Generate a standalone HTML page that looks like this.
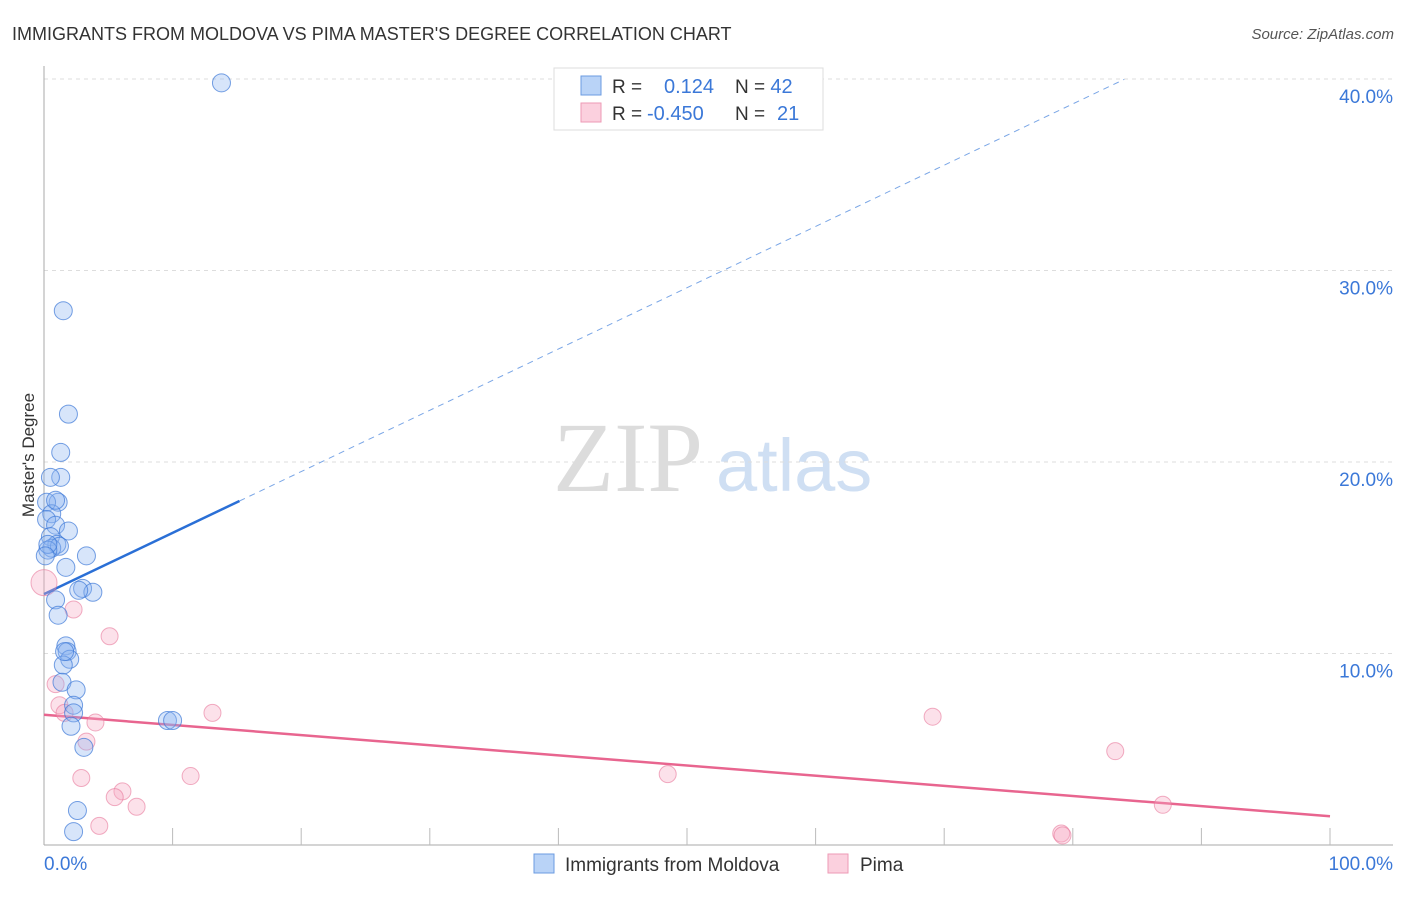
<!DOCTYPE html>
<html><head><meta charset="utf-8"><style>
body{margin:0;background:#fff;font-family:"Liberation Sans",sans-serif;}
</style></head><body>
<svg width="1406" height="892" xmlns="http://www.w3.org/2000/svg" font-family="Liberation Sans, sans-serif">
<text x="12" y="40" font-size="18" fill="#333">IMMIGRANTS FROM MOLDOVA VS PIMA MASTER'S DEGREE CORRELATION CHART</text>
<text x="1394" y="39" font-size="15" fill="#555" text-anchor="end" font-style="italic">Source: ZipAtlas.com</text>
<text x="553" y="491" font-size="100" fill="#dcdcdc" font-family="Liberation Serif, serif">ZIP</text>
<text x="716" y="491" font-size="74" fill="#cfdff3">atlas</text>
<g id="grid"></g>
<g id="axes"></g>
<text transform="translate(34,455) rotate(-90)" font-size="17" fill="#333" text-anchor="middle">Master's Degree</text>
<g id="lines"></g>
<g id="points"></g>
<rect x="554" y="68" width="269" height="62" fill="#fff" stroke="#ddd"/>
<rect x="581" y="76" width="20" height="19" fill="#b9d3f7" stroke="#6b9be0"/>
<rect x="581" y="103" width="20" height="19" fill="#fbd0de" stroke="#ee9ab5"/>
<text x="612" y="93" font-size="19" fill="#333">R = <tspan x="664" fill="#3b78d8" font-size="20">0.124</tspan><tspan x="735" fill="#333">N = </tspan><tspan fill="#3b78d8" font-size="20">42</tspan></text>
<text x="612" y="120" font-size="19" fill="#333">R = <tspan x="647" fill="#3b78d8" font-size="20">-0.450</tspan><tspan x="735" fill="#333">N = </tspan><tspan x="777" fill="#3b78d8" font-size="20">21</tspan></text>
<rect x="534" y="854" width="20" height="19" fill="#b9d3f7" stroke="#6b9be0"/>
<text x="565" y="871" font-size="19" fill="#333">Immigrants from Moldova</text>
<rect x="828" y="854" width="20" height="19" fill="#fbd0de" stroke="#ee9ab5"/>
<text x="860" y="871" font-size="19" fill="#333">Pima</text>
</svg>
<script>
const yTicks=[10,20,30,40];
const xTickLabels=["0.0%","100.0%"];
const blueX=[13.8,1.5,1.9,1.3,1.3,0.5,1.1,0.2,0.6,0.2,0.9,1.9,0.5,1.0,0.6,1.2,0.3,3.3,1.7,3.0,3.8,2.7,0.9,1.1,1.7,1.8,2.0,1.5,1.4,2.5,2.3,2.3,2.1,3.1,9.6,10.0,2.6,2.3,0.3,0.9,1.6,0.1];
const blueY=[39.8,27.9,22.5,20.5,19.2,19.2,17.9,17.9,17.3,17.0,16.7,16.4,16.1,15.7,15.5,15.6,15.4,15.1,14.5,13.4,13.2,13.3,12.8,12.0,10.4,10.1,9.7,9.4,8.5,8.1,7.3,6.9,6.2,5.1,6.5,6.5,1.8,0.7,15.7,18.0,10.1,15.1];
const pinkX=[0,2.3,5.1,0.9,1.2,4.0,3.3,13.1,69.1,83.3,2.9,11.4,48.5,6.1,5.5,7.2,87.0,4.3,79.1,79.2,1.6];
const pinkY=[13.7,12.3,10.9,8.4,7.3,6.4,5.4,6.9,6.7,4.9,3.5,3.6,3.7,2.8,2.5,2.0,2.1,1.0,0.6,0.5,6.9];
const blueTrend=[13.1,0.32];
const pinkTrend=[6.8,-0.053];
const X=v=>44+v*12.86, Y=v=>845-v*19.15;
const NS="http://www.w3.org/2000/svg";
function mk(tag,attrs,parent){const e=document.createElementNS(NS,tag);for(const k in attrs)e.setAttribute(k,attrs[k]);document.getElementById(parent).appendChild(e);return e;}
yTicks.forEach(t=>{
 const l=mk('line',{x1:44,x2:1393,y1:Y(t),y2:Y(t),stroke:'#ddd','stroke-dasharray':'4,4'},'grid');
 
 
 const tx=mk('text',{x:1393,y:Y(t)+24,'font-size':19,fill:'#3b78d8','text-anchor':'end'},'grid');
 tx.textContent=t.toFixed(1)+'%';
 
 
});
const ya=mk('line',{x1:44,x2:44,y1:66,y2:845,stroke:'#aaa'},'axes');


const xa=mk('line',{x1:44,x2:1393,y1:845,y2:845,stroke:'#aaa'},'axes');


for(let i=1;i<=10;i++){const t=mk('line',{x1:X(i*10),x2:X(i*10),y1:828,y2:845,stroke:'#bbb'},'axes');
 
 }
[[0,'start',44],[100,'end',1393]].forEach((d,i)=>{const t=mk('text',{x:d[2],y:870,'font-size':19,fill:'#3b78d8','text-anchor':d[1]},'axes');t.textContent=xTickLabels[i];
 
 });
const bEnd=15.2, bDash=84;
let l1=mk('line',{x1:X(0),y1:Y(blueTrend[0]),x2:X(bEnd),y2:Y(blueTrend[0]+blueTrend[1]*bEnd),stroke:'#2a6fd6','stroke-width':2.5},'lines');


let l2=mk('line',{x1:X(bEnd),y1:Y(blueTrend[0]+blueTrend[1]*bEnd),x2:X(bDash),y2:Y(blueTrend[0]+blueTrend[1]*bDash),stroke:'#7aa6e6','stroke-width':1,'stroke-dasharray':'6,5'},'lines');


let l3=mk('line',{x1:X(0),y1:Y(pinkTrend[0]),x2:X(100),y2:Y(pinkTrend[0]+pinkTrend[1]*100),stroke:'#e8658f','stroke-width':2.5},'lines');


pinkX.forEach((x,i)=>{const c=mk('circle',{cx:X(x),cy:Y(pinkY[i]),r:i===0?13:8.5,fill:'rgba(246,170,195,0.35)',stroke:'rgba(232,120,155,0.6)','stroke-width':1},'points');
 
 });
blueX.forEach((x,i)=>{const c=mk('circle',{cx:X(x),cy:Y(blueY[i]),r:9,fill:'rgba(140,180,240,0.35)',stroke:'rgba(60,120,215,0.7)','stroke-width':1},'points');
 
 });
</script>
</body></html>
